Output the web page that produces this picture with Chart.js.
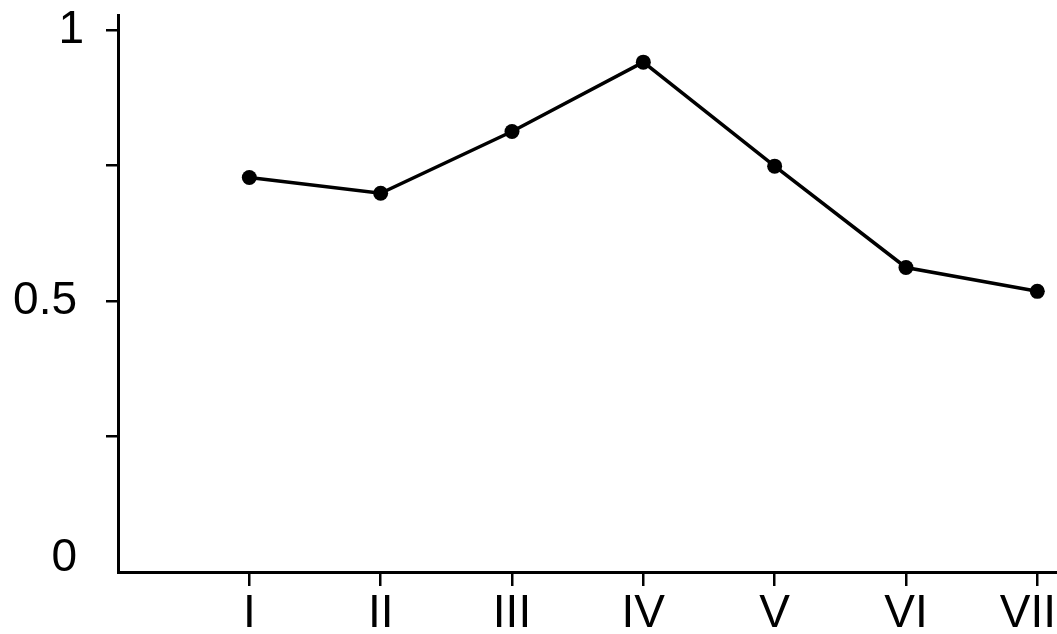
<!DOCTYPE html>
<html>
<head>
<meta charset="utf-8">
<script src="https://cdn.jsdelivr.net/npm/chart.js@4/dist/chart.umd.min.js"></script>
<style>
    html, body { margin: 0; padding: 0; background: #fff; }
    #wrap { width: 1057px; height: 634px; position: relative; }
</style>
</head>
<body>
<div id="wrap"><canvas id="lineChart"></canvas></div>
<script>
// Data
const categories = ['I', 'II', 'III', 'IV', 'V', 'VI', 'VII'];
const seriesValues = [0.728, 0.699, 0.813, 0.941, 0.749, 0.562, 0.518];
const yTickMarks = [0.25, 0.5, 0.75, 1];
const yTickLabels = ['0', '0.5', '1'];
const yLabelValues = [0, 0.5, 1];

const FONT = '46px "Liberation Sans", Arial, sans-serif';

// Draws the axis labels at scale positions
const axisLabels = {
    id: 'axisLabels',
    afterDraw(chart) {
        const ctx = chart.ctx;
        const xs = chart.scales.x;
        const ys = chart.scales.y;
        ctx.save();
        ctx.fillStyle = '#000';
        ctx.font = FONT;
        ctx.textBaseline = 'middle';

        ctx.textAlign = 'right';
        yLabelValues.forEach((v, i) => {
            let y = ys.getPixelForValue(v);
            if (v === 0) y -= 14;
            ctx.fillText(yTickLabels[i], v === 1 ? 84 : 77, y);
        });

        // keep the last label inside the canvas
        ctx.textAlign = 'center';
        categories.forEach((c, i) => {
            const w = ctx.measureText(c).width;
            const x = Math.min(xs.getPixelForValue(i + 1), chart.width - w / 2 - 1);
            ctx.fillText(c, x, 614);
        });
        ctx.restore();
    }
};

const ctx = document.getElementById('lineChart').getContext('2d');
new Chart(ctx, {
    type: 'line',
    data: {
        datasets: [{
            data: seriesValues.map((v, i) => ({ x: i + 1, y: v })),
            borderColor: '#000',
            borderWidth: 3.5,
            backgroundColor: '#000',
            pointRadius: 7.5,
            pointBackgroundColor: '#000',
            pointBorderWidth: 0,
            tension: 0,
            fill: false
        }]
    },
    options: {
        responsive: true,
        maintainAspectRatio: false,
        animation: false,
        layout: { autoPadding: false, padding: { top: 15, left: 0, right: 0, bottom: 0 } },
        plugins: {
            legend: { display: false },
            tooltip: { enabled: false }
        },
        scales: {
            x: {
                type: 'linear',
                min: 0,
                max: 7.15,
                afterBuildTicks: scale => {
                    scale.ticks = categories.map((c, i) => ({ value: i + 1 }));
                },
                afterFit: scale => { scale.height = 62; },
                ticks: { display: false },
                grid: {
                    drawOnChartArea: false,
                    drawTicks: true,
                    tickLength: 14,
                    color: '#000',
                    lineWidth: 2.5
                },
                border: { display: true, color: '#000', width: 3 }
            },
            y: {
                type: 'linear',
                min: 0,
                max: 1.028,
                afterBuildTicks: scale => {
                    scale.ticks = yTickMarks.map(v => ({ value: v }));
                },
                afterFit: scale => { scale.width = 118; },
                ticks: { display: false },
                grid: {
                    drawOnChartArea: false,
                    drawTicks: true,
                    tickLength: 12,
                    color: '#000',
                    lineWidth: 2.5
                },
                border: { display: true, color: '#000', width: 3 }
            }
        }
    },
    plugins: [axisLabels]
});
</script>
</body>
</html>
